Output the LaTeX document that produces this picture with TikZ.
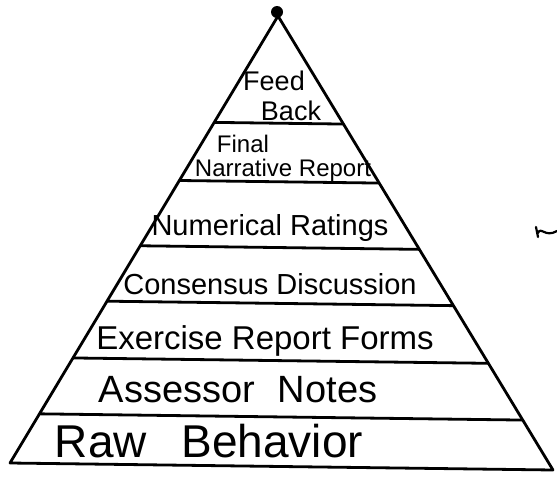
\documentclass[tikz,border=0pt]{standalone}
\usepackage{fontspec}
\setmainfont{Liberation Sans}
\usetikzlibrary{calc}

\begin{document}
\begin{tikzpicture}[x=1pt, y=-1pt, line width=2.8pt, line join=round,
    tier/.style={font=\fontsize{#1}{#1}\selectfont, anchor=base, inner sep=0pt}]
    \useasboundingbox (0,0) rectangle (557,482);

    % outline of the pyramid
    \coordinate (top) at (278,16);
    \coordinate (bl) at (10,463);
    \coordinate (br) at (553,470);
    \draw (top) -- (bl) -- (br) -- cycle;
    \node [circle, fill, minimum size=12pt, inner sep=0pt] (tip) at (277,12) {};

    % levels
    \foreach \t in {0.238, 0.368, 0.514, 0.638, 0.765, 0.89}
        \draw ($(top)!\t!(bl)$) -- ($(top)!\t!(br)$);

    \node [tier=27pt] (feed) at (274,90) {Feed};
    \node [tier=27pt] (back) at (291,120) {Back};
    \node [tier=24pt] (final) at (243,152) {Final};
    \node [tier=24pt] (narr) at (283,176) {Narrative Report};
    \node [tier=29pt] (num) at (270,235) {Numerical Ratings};
    \node [tier=29pt] (cons) at (270,294) {Consensus Discussion};
    \node [tier=33pt] (erf) at (265,349) {Exercise Report Forms};
    \node [tier=38pt] (notes) at (238,402) {Assessor\hspace{0.6em}Notes};
    \node [tier=46pt] (raw) at (209,457) {Raw\hspace{0.75em}Behavior};

    % pen mark at the right
    \draw [line width=2.2pt, line cap=round] (536,227) -- (538,237)
        (538,233) .. controls (541,226) and (545,238) .. (557,231);
\end{tikzpicture}
\end{document}
